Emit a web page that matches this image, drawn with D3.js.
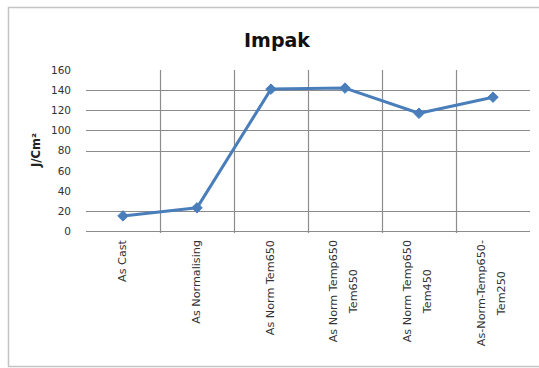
<!DOCTYPE html>
<html><head><meta charset="utf-8">
<script src="https://cdn.jsdelivr.net/npm/d3@7"></script>
<style>body{margin:0;background:#fff}svg{display:block}</style>
</head><body>
<svg id="c" width="539" height="368"></svg>
<script>
const categories = [
  ["As Cast"],
  ["As Normalising"],
  ["As Norm Tem650"],
  ["As Norm Temp650", "Tem650"],
  ["As Norm Temp650", "Tem450"],
  ["As-Norm-Temp650-", "Tem250"]
];
const values = [15, 23, 141, 142, 117, 133];
const yTicks = [0, 20, 40, 60, 80, 100, 120, 140, 160];
const yGridShown = [0, 20, 80, 100, 120, 140];
const titleText = "Impak";
const yTitle = "J/Cm²";

(function () {
const svg = d3.select("#c");
const font = "DejaVu Sans, Verdana, sans-serif";
const L = 86, R = 530, T = 70, B = 231;

// chart border
svg.append("rect").attr("x", 8.5).attr("y", 7.5).attr("width", 540).attr("height", 359)
  .attr("fill", "none").attr("stroke", "#c4c4c4").attr("stroke-width", 1.5);

const idx = categories.map((d, i) => i);
const x = d3.scaleBand().domain(idx).range([L, R]).padding(0);
const y = d3.scaleLinear().domain([0, 160]).range([B, T]);

// horizontal gridlines
svg.append("g").selectAll("line").data(yGridShown).join("line")
  .attr("x1", L).attr("x2", R)
  .attr("y1", d => Math.round(y(d)) + 0.5).attr("y2", d => Math.round(y(d)) + 0.5)
  .attr("stroke", "#8c8c8c").attr("stroke-width", 1.2);

// vertical gridlines (category boundaries)
svg.append("g").selectAll("line").data(idx.slice(1)).join("line")
  .attr("x1", d => Math.round(x(d)) + 0.5).attr("x2", d => Math.round(x(d)) + 0.5)
  .attr("y1", T).attr("y2", B + 2)
  .attr("stroke", "#8c8c8c").attr("stroke-width", 1.2);

// y axis tick labels
const yAxis = d3.axisLeft(y).tickValues(yTicks).tickSize(0).tickPadding(0);
const gy = svg.append("g").attr("transform", `translate(${71},0)`).call(yAxis);
gy.select(".domain").remove();
gy.selectAll("text").attr("font-family", font).attr("font-size", 10.5).attr("fill", "#333");

// y title
svg.append("text").attr("transform", `translate(40,150) rotate(-90)`)
  .attr("text-anchor", "middle").attr("font-family", font).attr("font-weight", "bold")
  .attr("font-size", 11.5).attr("fill", "#222").text(yTitle);

// title
svg.append("text").attr("x", 277).attr("y", 47).attr("text-anchor", "middle")
  .attr("font-family", font).attr("font-weight", "bold").attr("font-size", 19)
  .attr("fill", "#111").text(titleText);

// x labels
const cx = i => x(i) + x.bandwidth() / 2;
const labelTop = 240;
categories.forEach((lines, i) => {
  const g = svg.append("g");
  const texts = lines.map((t, j) => g.append("text")
    .attr("font-family", font).attr("font-size", 11.2).attr("fill", "#333")
    .attr("text-anchor", "middle").text(t));
  const maxLen = d3.max(texts, t => t.node().getComputedTextLength());
  const n = lines.length;
  texts.forEach((t, j) => {
    const off = n === 1 ? 3 : (j === 0 ? -8 : 12);
    t.attr("transform", `translate(${cx(i) + off},${labelTop + maxLen / 2}) rotate(-90)`);
  });
});

// line
const color = "#4a7ebb";
const line = d3.line().x((d, i) => cx(i)).y(d => y(d));
svg.append("path").datum(values).attr("d", line).attr("fill", "none")
  .attr("stroke", color).attr("stroke-width", 3).attr("stroke-linejoin", "round");
svg.append("g").selectAll("path").data(values).join("path")
  .attr("d", d3.symbol(d3.symbolDiamond2, 70)())
  .attr("transform", (d, i) => `translate(${cx(i)},${y(d)})`)
  .attr("fill", color).attr("stroke", color).attr("stroke-width", 1);
})();
</script>
</body></html>
